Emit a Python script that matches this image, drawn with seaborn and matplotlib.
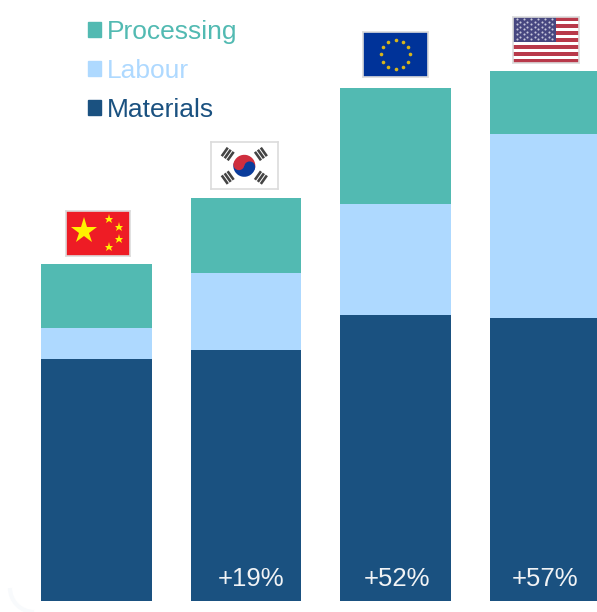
import numpy as np
import pandas as pd
import matplotlib
matplotlib.use("Agg")
import matplotlib.pyplot as plt
from matplotlib.patches import Arc, Circle, Patch, Rectangle, Wedge
from matplotlib.transforms import Affine2D, IdentityTransform
import seaborn as sns

# Cost per unit, indexed so that China's total equals 100
regions = ["China", "South Korea", "EU", "USA"]
materials = [71.8, 74.5, 84.9, 84.0]
labour = [9.2, 22.8, 32.9, 54.6]
processing = [19.0, 22.3, 34.4, 18.7]
premium_labels = ["", "+19%", "+52%", "+57%"]

TEAL = "#52BAB2"
SKY = "#AED9FF"
NAVY = "#1A5180"
W, H = 597, 612

sns.set_theme(style="white")
plt.rcParams["font.family"] = ["Liberation Sans", "DejaVu Sans"]

fig = plt.figure(figsize=(W / 100, H / 100), dpi=100, facecolor="white")
ax = fig.add_axes([0, 0, 1, 1])

# Faint rounded corner of the card behind the chart
fig.add_artist(Arc((34, 24), 48, 48, theta1=180, theta2=270, color="#F8FAFC", lw=3,
                   transform=IdentityTransform(), zorder=-1))

df = pd.DataFrame({"region": regions, "Materials": materials,
                   "Labour": labour, "Processing": processing})

# Stack the three cost components from the ground up
base = np.zeros(len(regions))
for name, colour in [("Materials", NAVY), ("Labour", SKY), ("Processing", TEAL)]:
    sns.barplot(data=df, x="region", y=name, order=regions, color=colour, saturation=1,
                width=0.74, bottom=base, ax=ax, linewidth=0, errorbar=None)
    base = base + df[name].to_numpy()

ax.set_xlim(-0.6455, 3.348)
ax.set_ylim(-3.26, 178.3)
ax.axis("off")

# Premium over China, written at the foot of each bar
label_offsets = [0, 0.033, 0.01, 0]
for i, text in enumerate(premium_labels):
    if text:
        ax.text(i + label_offsets[i], 4.6, text, color="#F1F3F5", fontsize=18.5,
                ha="center", va="baseline")

handles = [Patch(color=TEAL), Patch(color=SKY), Patch(color=NAVY)]
legend = ax.legend(handles, ["Processing", "Labour", "Materials"], frameon=False,
                   fontsize=19, labelcolor=[TEAL, SKY, NAVY],
                   handlelength=0.5, handleheight=0.5, handletextpad=0.22,
                   labelspacing=0.58, borderpad=0, borderaxespad=0,
                   loc="upper left", bbox_to_anchor=(88 / W, 1 - 19.5 / H))


def flag_axes(left, top, width, height, edge="#DCDCDC"):
    """Small axes measured in pixels of the flag, origin at its top-left corner."""
    fa = fig.add_axes([left / W, 1 - (top + height) / H, width / W, height / H])
    fa.set_xlim(0, width)
    fa.set_ylim(height, 0)
    fa.set_xticks([])
    fa.set_yticks([])
    for spine in fa.spines.values():
        spine.set_edgecolor(edge)
        spine.set_linewidth(1.2)
    return fa


def draw_china(fa):
    fa.set_facecolor("#EE1C25")
    star = "#FFF200"
    fa.plot([18.7], [19.8], marker="*", ms=20, color=star, mew=0)
    for x, y in [(43.7, 8.3), (53.7, 16.3), (53.7, 28.3), (43.7, 36.3)]:
        fa.plot([x], [y], marker="*", ms=6.5, color=star, mew=0)


def draw_korea(fa):
    fa.set_facecolor("white")
    cx, cy, r = 33.3, 23.8, 11
    tilt = 12
    fa.add_patch(Wedge((cx, cy), r, 180 + tilt, 360 + tilt, color="#CF2E3E", lw=0))
    fa.add_patch(Wedge((cx, cy), r, tilt, 180 + tilt, color="#0A3C9C", lw=0))
    dx, dy = r / 2 * np.cos(np.radians(tilt)), r / 2 * np.sin(np.radians(tilt))
    fa.add_patch(Circle((cx - dx, cy - dy), r / 2, color="#CF2E3E", lw=0))
    fa.add_patch(Circle((cx + dx, cy + dy), r / 2, color="#0A3C9C", lw=0))
    # Four trigrams on the diagonals
    for sx, sy in [(-1, -1), (1, -1), (-1, 1), (1, 1)]:
        angle = np.degrees(np.arctan2(sy * 11.8, sx * 16.6))
        for shift in (-3.6, 0, 3.6):
            tr = (Affine2D().translate(shift - 1.3, -5.2).rotate_deg(angle).translate(
                cx + sx * 16.6, cy + sy * 11.8))
            fa.add_patch(Rectangle((0, 0), 2.6, 10.4, color="#444444", lw=0,
                                   transform=tr + fa.transData))


def draw_eu(fa):
    fa.set_facecolor("#003399")
    ring = np.radians(np.arange(0, 360, 30))
    fa.plot(32.7 + 14.6 * np.cos(ring), 22.3 + 14.6 * np.sin(ring), ls="none",
            marker="o", ms=2.6, color="#D9B61A", mew=0)


def draw_usa(fa):
    fa.set_facecolor("white")
    stripe = 46 / 13
    for k in range(0, 13, 2):
        fa.add_patch(Rectangle((0, k * stripe), 66, stripe, color="#B8394A", lw=0))
    fa.add_patch(Rectangle((0, 0), 43, 7 * stripe, color="#474780", lw=0))
    for row in range(9):
        count = 6 if row % 2 == 0 else 5
        xs = (np.arange(count) + (0.5 if row % 2 == 0 else 1.0)) * 43 / 6
        fa.plot(xs, np.full(count, (row + 1) * 24.8 / 10), ls="none", marker="o",
                ms=1.5, color="#C8C8DC", mew=0)


draw_china(flag_axes(65.5, 211, 64.5, 45))
draw_korea(flag_axes(211, 142, 67, 47))
draw_eu(flag_axes(363, 32, 65, 45))
draw_usa(flag_axes(513, 17, 66, 46))

fig.savefig("out.png", dpi=100, facecolor="white")
